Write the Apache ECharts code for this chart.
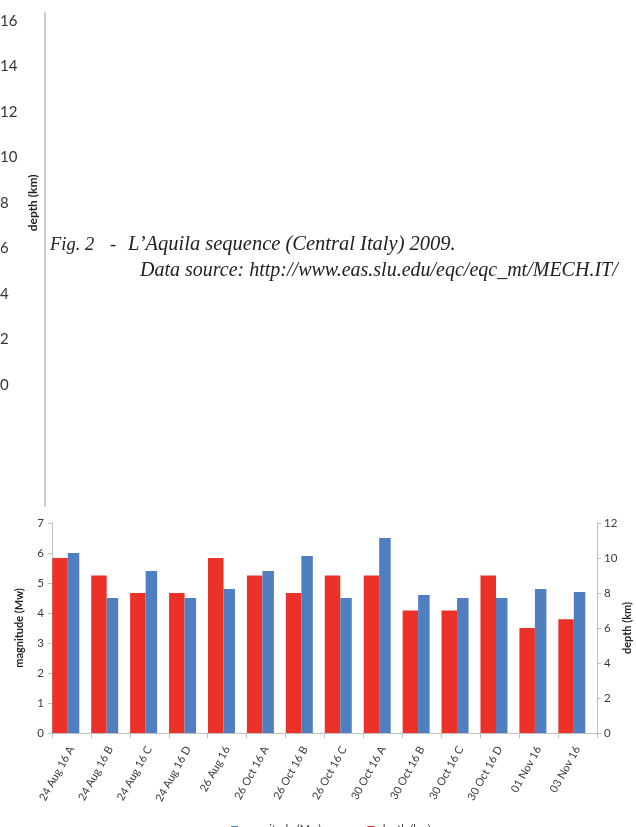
<!DOCTYPE html>
<html>
<head>
<meta charset="utf-8">
<script src="https://cdn.jsdelivr.net/npm/echarts@6/dist/echarts.min.js"></script>
<style>html,body{margin:0;padding:0;background:#fff;}#c{width:636px;height:827px;}</style>
</head>
<body>
<div id="c"></div>
<script>
// ---- data ----
var categories = ['24 Aug 16 A','24 Aug 16 B','24 Aug 16 C','24 Aug 16 D','26 Aug 16','26 Oct 16 A','26 Oct 16 B','26 Oct 16 C','30 Oct 16 A','30 Oct 16 B','30 Oct 16 C','30 Oct 16 D','01 Nov 16','03 Nov 16'];
var magnitude = [6.0, 4.5, 5.4, 4.5, 4.8, 5.4, 5.9, 4.5, 6.5, 4.6, 4.5, 4.5, 4.8, 4.7];
var depth = [10, 9, 8, 8, 10, 9, 8, 9, 9, 7, 7, 9, 6, 6.5];
var magTicks = {min: 0, max: 7, interval: 1};
var depthTicks = {min: 0, max: 12, interval: 2};
var topDepthTicks = {min: 0, max: 16, interval: 2};
var captionFig = 'Fig. 2';
var captionDash = '-';
var captionLine1 = 'L\u2019Aquila sequence (Central Italy) 2009.';
var captionLine2 = 'Data source: http://www.eas.slu.edu/eqc/eqc_mt/MECH.IT/';

var FONT = 'Lato, "Open Sans", sans-serif';
var AXIS_COLOR = '#BFBFBF';
var TEXT_COLOR = '#3A3A3A';
var RED = '#EC3228';
var BLUE = '#4F7FC0';
var SERIF = '"Liberation Serif", "DejaVu Serif", serif';

var chart = echarts.init(document.getElementById('c'), null, {renderer: 'canvas'});
var option = {
  animation: false,
  backgroundColor: '#fff',
  textStyle: {fontFamily: FONT},
  grid: [
    {left: 52, right: 39, top: 523, bottom: 94, outerBoundsMode: 'none', containLabel: false},
    {left: 46.3, right: 44.7, top: 523, bottom: 94, outerBoundsMode: 'none', containLabel: false},
    {left: 45, width: 10, top: 20.7, bottom: 442, outerBoundsMode: 'none', containLabel: false}
  ],
  xAxis: [
    {type: 'category', gridIndex: 0, data: categories,
      axisLine: {lineStyle: {color: AXIS_COLOR, width: 1}},
      axisTick: {show: true, length: 5, lineStyle: {color: AXIS_COLOR}},
      axisLabel: {interval: 0, rotate: 61, margin: 14, fontSize: 11, color: TEXT_COLOR, fontFamily: FONT},
      splitLine: {show: false}},
    {type: 'category', gridIndex: 1, data: categories, show: false},
    {type: 'category', gridIndex: 2, data: [''], show: false}
  ],
  yAxis: [
    {type: 'value', gridIndex: 0, position: 'left', min: magTicks.min, max: magTicks.max, interval: magTicks.interval,
      name: 'magnitude (Mw)', nameLocation: 'middle', nameRotate: 90, nameGap: 27, nameMoveOverlap: false,
      nameTextStyle: {fontSize: 11, fontWeight: 'bold', color: '#222', fontFamily: FONT},
      axisLine: {show: true, lineStyle: {color: AXIS_COLOR}},
      axisTick: {show: true, length: 4, lineStyle: {color: AXIS_COLOR}},
      axisLabel: {fontSize: 11.5, color: TEXT_COLOR, margin: 8, fontFamily: FONT},
      splitLine: {show: false}},
    {type: 'value', gridIndex: 0, position: 'right', min: depthTicks.min, max: depthTicks.max, interval: depthTicks.interval,
      name: 'depth (km)', nameLocation: 'middle', nameRotate: 90, nameGap: 25, nameMoveOverlap: false,
      nameTextStyle: {fontSize: 11, fontWeight: 'bold', color: '#222', fontFamily: FONT},
      axisLine: {show: true, lineStyle: {color: AXIS_COLOR}},
      axisTick: {show: true, length: 4, lineStyle: {color: AXIS_COLOR}},
      axisLabel: {fontSize: 11.5, color: TEXT_COLOR, margin: 7, fontFamily: FONT},
      splitLine: {show: false}},
    {type: 'value', gridIndex: 1, min: magTicks.min, max: magTicks.max, interval: magTicks.interval, show: false, splitLine: {show: false}},
    {type: 'value', gridIndex: 1, min: depthTicks.min, max: depthTicks.max, interval: depthTicks.interval, show: false, splitLine: {show: false}},
    {type: 'value', gridIndex: 2, position: 'left', min: topDepthTicks.min, max: topDepthTicks.max, interval: topDepthTicks.interval,
      name: 'depth (km)', nameLocation: 'middle', nameRotate: 90, nameGap: 6, nameMoveOverlap: false,
      nameTextStyle: {fontSize: 12, fontWeight: 'bold', color: '#222', fontFamily: FONT},
      axisLine: {show: false}, axisTick: {show: false},
      axisLabel: {fontSize: 15, color: '#333', align: 'left', margin: 45, fontFamily: FONT},
      splitLine: {show: false}}
  ],
  legend: {
    data: ['magnitude (Mw)', 'depth (km)'],
    left: 226, top: 819, itemWidth: 7, itemHeight: 7, itemGap: 46,
    icon: 'rect',
    textStyle: {fontSize: 11, color: TEXT_COLOR, fontFamily: FONT}
  },
  series: [
    {name: 'depth (km)', type: 'bar', xAxisIndex: 1, yAxisIndex: 3, data: depth,
      barWidth: 15.5, barGap: '0%', itemStyle: {color: RED}},
    {name: 'magnitude (Mw)', type: 'bar', xAxisIndex: 1, yAxisIndex: 2, data: magnitude,
      barWidth: 11.5, barGap: '0%', itemStyle: {color: BLUE}}
  ],
  graphic: [
    {type: 'line', shape: {x1: 45, y1: 12, x2: 45, y2: 507}, style: {stroke: '#BDBDBD', lineWidth: 1.5}},
    {type: 'text', x: 50, y: 245, style: {text: captionFig, font: 'italic 18.5px ' + SERIF, fill: '#222', verticalAlign: 'middle'}},
    {type: 'text', x: 110, y: 245, style: {text: captionDash, font: 'italic 18.5px ' + SERIF, fill: '#222', verticalAlign: 'middle'}},
    {type: 'text', x: 128, y: 245, style: {text: captionLine1, font: 'italic 20.5px ' + SERIF, fill: '#222', verticalAlign: 'middle'}},
    {type: 'text', x: 140, y: 271, style: {text: captionLine2, font: 'italic 20px ' + SERIF, fill: '#222', verticalAlign: 'middle'}}
  ]
};
chart.setOption(option);
</script>
</body>
</html>
